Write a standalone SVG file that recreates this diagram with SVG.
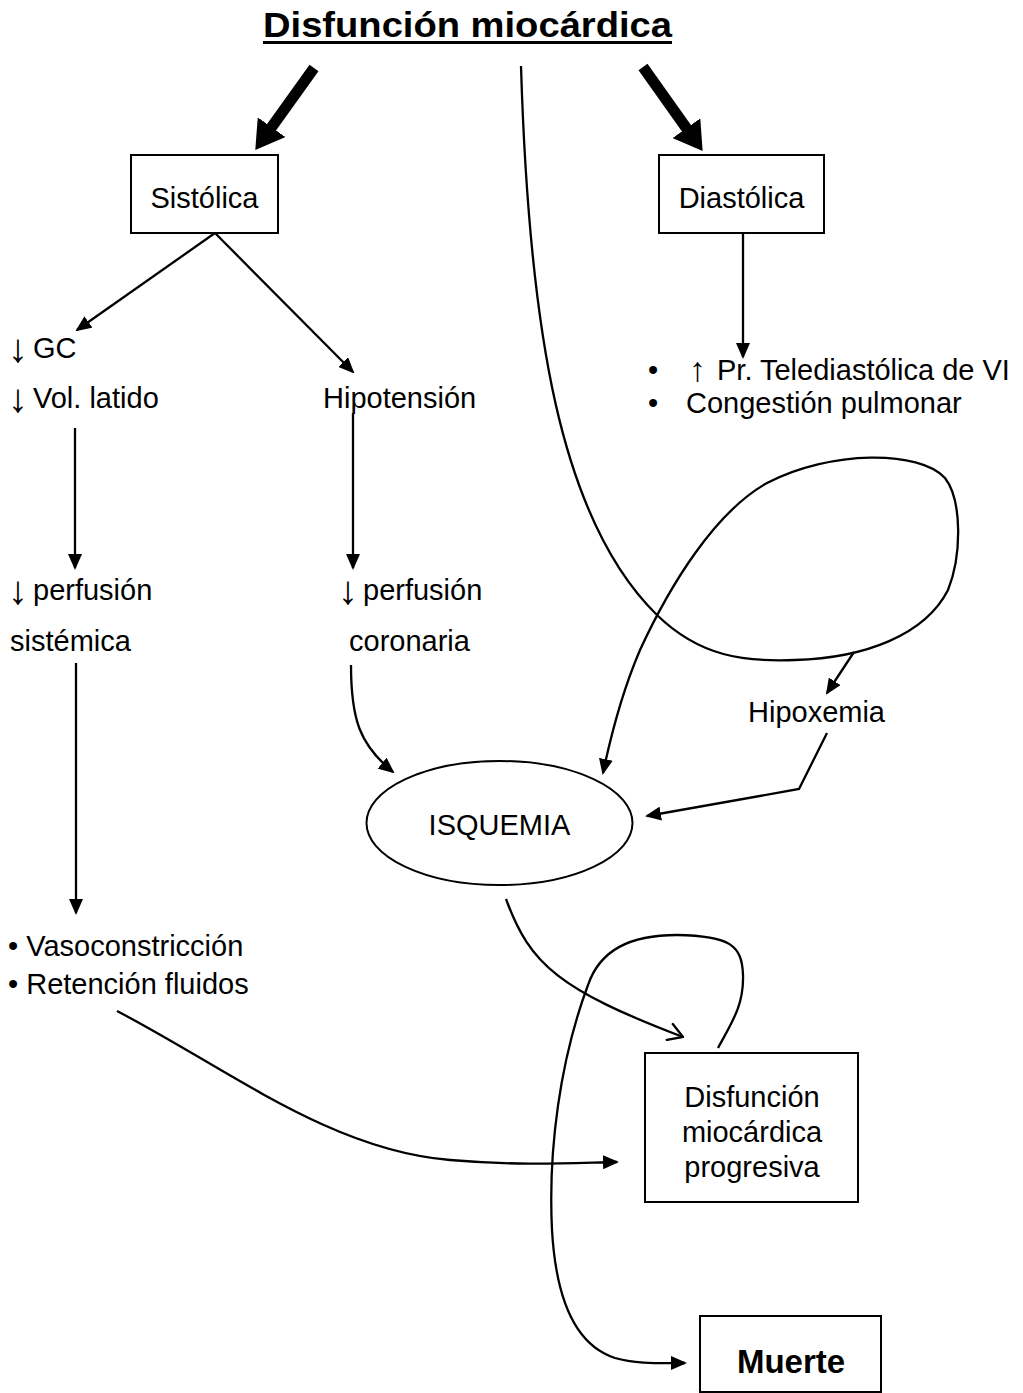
<svg xmlns="http://www.w3.org/2000/svg" width="1023" height="1393" viewBox="0 0 1023 1393">
<style>
text{font-family:"Liberation Sans",Arial,sans-serif;font-size:29px;fill:#000}
.b{font-weight:bold}
.c{text-anchor:middle}
.ar{font-size:40px}
.box{fill:#fff;stroke:#000;stroke-width:2}
.ln{fill:none;stroke:#000;stroke-width:2.3}
.thick{fill:none;stroke:#000;stroke-width:11}
</style>
<defs>
<marker id="ah" markerUnits="userSpaceOnUse" viewBox="0 0 16 14" refX="14" refY="7" markerWidth="16" markerHeight="14" orient="auto"><path d="M0,0 L16,7 L0,14 z" fill="#000"/></marker>
<marker id="big" markerUnits="userSpaceOnUse" viewBox="0 0 28 34" refX="1" refY="17" markerWidth="28" markerHeight="34" orient="auto"><path d="M0,0 L28,17 L0,34 z" fill="#000"/></marker>
<marker id="open" markerUnits="userSpaceOnUse" viewBox="0 0 18 20" refX="17" refY="10" markerWidth="18" markerHeight="20" orient="auto"><path d="M2,1 L17,10 L2,19" fill="none" stroke="#000" stroke-width="2.3"/></marker>
<clipPath id="clip1"><rect x="600" y="380" width="423" height="40"/></clipPath>
</defs>

<g id="title">
<text class="b" x="263" y="37" textLength="409" lengthAdjust="spacingAndGlyphs" style="font-size:35px">Disfunción miocárdica</text>
<line x1="263" y1="42.5" x2="672" y2="42.5" stroke="#000" stroke-width="3"/>
</g>

<g id="sistolica"><rect class="box" x="131" y="155" width="147" height="78"/><text class="c" x="204.5" y="208">Sistólica</text></g>
<g id="diastolica"><rect class="box" x="659" y="155" width="165" height="78"/><text class="c" x="741.5" y="208">Diastólica</text></g>
<g id="gc">
<text x="8" y="362" class="ar">↓</text><text x="33" y="358">GC</text>
<text x="8" y="412" class="ar">↓</text><text x="33" y="408">Vol. latido</text>
</g>
<g id="hipotension"><text x="323" y="408">Hipotensión</text></g>
<g id="diast-effects">
<text x="648" y="380">•</text><text x="689" y="381" style="font-size:34px">↑</text><text x="717" y="380">Pr. Telediastólica de VI</text>
<text x="648" y="413">•</text><text x="686" y="413" clip-path="url(#clip1)">Congestión pulmonar</text>
</g>
<g id="perf-sist"><text x="8" y="604" class="ar">↓</text><text x="33" y="600">perfusión</text><text x="10" y="651">sistémica</text></g>
<g id="perf-cor"><text x="338" y="604" class="ar">↓</text><text x="363" y="600">perfusión</text><text x="349" y="651">coronaria</text></g>
<g id="hipoxemia"><text x="748" y="722">Hipoxemia</text></g>
<g id="isquemia"><ellipse cx="499.5" cy="823" rx="133" ry="62" fill="#fff" stroke="#000" stroke-width="2"/><text class="c" x="499.5" y="835">ISQUEMIA</text></g>
<g id="vaso"><text x="8" y="956">• Vasoconstricción</text><text x="8" y="994">• Retención fluidos</text></g>
<g id="progresiva"><rect class="box" x="645" y="1053" width="213" height="149"/>
<text class="c" x="752" y="1107">Disfunción</text><text class="c" x="752" y="1142">miocárdica</text><text class="c" x="752" y="1177">progresiva</text></g>
<g id="muerte"><rect class="box" x="700" y="1316" width="181" height="76"/><text class="c b" x="791" y="1373" style="font-size:33px">Muerte</text></g>

<g id="connectors">
<line class="thick" x1="314" y1="68" x2="271" y2="128" marker-end="url(#big)"/>
<line class="thick" x1="643" y1="67" x2="687" y2="129" marker-end="url(#big)"/>
<line class="ln" x1="215" y1="233" x2="77" y2="330" marker-end="url(#ah)"/>
<line class="ln" x1="215" y1="233" x2="353" y2="372" marker-end="url(#ah)"/>
<line class="ln" x1="743" y1="233" x2="743" y2="357" marker-end="url(#ah)"/>
<line class="ln" x1="75" y1="428" x2="75" y2="568" marker-end="url(#ah)"/>
<line class="ln" x1="353" y1="413" x2="353" y2="568" marker-end="url(#ah)"/>
<line class="ln" x1="76" y1="663" x2="76" y2="913" marker-end="url(#ah)"/>
<path class="ln" d="M351,665 C351,720 360,745 393,772" marker-end="url(#ah)"/>
<path class="ln" d="M521,66 C529,330 560,520 657,615 C700,657 745,662 795,660 C865,658 925,635 948,590 C962,555 962,500 945,478 C920,450 830,450 767,483 C715,512 670,585 640,650 C625,685 612,730 603,773" marker-end="url(#ah)"/>
<line class="ln" x1="854" y1="652" x2="827" y2="693" marker-end="url(#ah)"/>
<polyline class="ln" points="827,733 799,789 647,816" marker-end="url(#ah)"/>
<path class="ln" d="M506,899 C530,965 560,990 683,1037" marker-end="url(#open)"/>
<path class="ln" d="M117,1011 C230,1070 330,1150 450,1160 C520,1166 570,1163 617,1162" marker-end="url(#ah)"/>
<path class="ln" d="M718,1048 C732,1022 744,1005 743,975 C742,945 730,936 677,935 C630,935 600,950 588,985 C560,1060 548,1150 552,1230 C556,1300 575,1345 615,1358 C635,1364 660,1363 685,1363" marker-end="url(#ah)"/>
</g>
</svg>
